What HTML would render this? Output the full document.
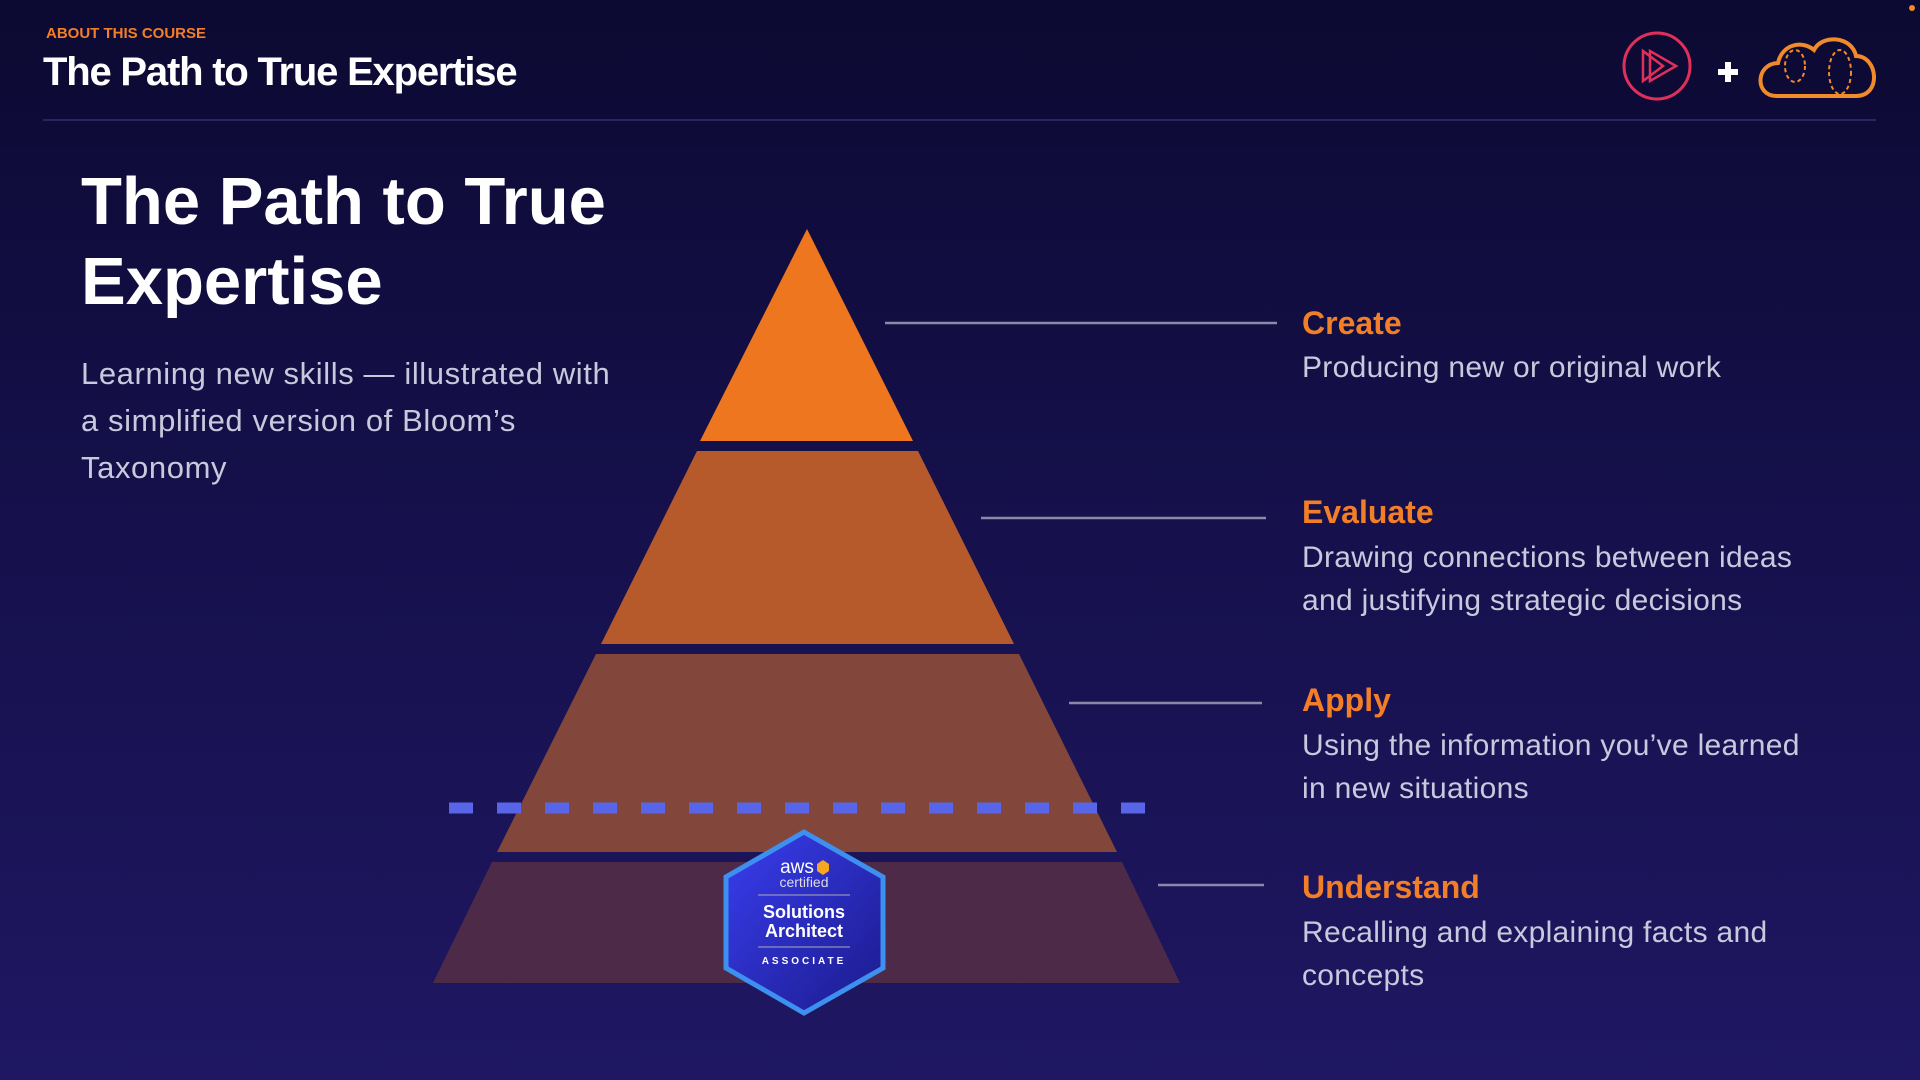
<!DOCTYPE html>
<html><head><meta charset="utf-8"><style>
html,body{margin:0;padding:0}
body{width:1920px;height:1080px;overflow:hidden;position:relative;font-family:"Liberation Sans",sans-serif;background:linear-gradient(180deg,#0c0932 0%,#15104a 45%,#1f1762 100%);}
.t{position:absolute;white-space:nowrap}
.h{color:#f27f28;font-weight:bold;font-size:32px}
.d{color:#c9c9dd;font-size:30px;line-height:43px;letter-spacing:0.3px}
</style></head><body>
<div class="t" style="left:46px;top:25px;font-size:15px;font-weight:bold;color:#f27f28">ABOUT THIS COURSE</div>
<div class="t" style="left:43px;top:50px;font-size:40px;font-weight:bold;color:#fff;letter-spacing:-1.2px">The Path to True Expertise</div>
<div style="position:absolute;left:43px;top:119px;width:1833px;height:2px;background:#2a2560"></div>
<div class="t" style="left:81px;top:162px;font-size:67px;font-weight:bold;color:#fff;line-height:80px">The Path to True<br>Expertise</div>
<div class="t" style="left:81px;top:350px;font-size:31px;color:#c9c9dd;line-height:47px;letter-spacing:0.6px">Learning new skills — illustrated with<br>a simplified version of Bloom’s<br>Taxonomy</div>
<svg style="position:absolute;left:0;top:0" width="1920" height="1080">
<polygon points="807,229 913,441 700,441" fill="#ee761e"/>
<polygon points="697,451 918,451 1014,644 601,644" fill="#b65a2b"/>
<polygon points="596,654 1019,654 1117,852 497,852" fill="#83463a"/>
<polygon points="492,862 1122,862 1180,983 433,983" fill="#4d2b48"/>
<line x1="449" y1="808" x2="1145" y2="808" stroke="#5865e8" stroke-width="11" stroke-dasharray="24 24"/>
<g stroke="#8a8aa8" stroke-width="2.5">
<line x1="885" y1="323" x2="1277" y2="323"/><line x1="981" y1="518" x2="1266" y2="518"/>
<line x1="1069" y1="703" x2="1262" y2="703"/><line x1="1158" y1="885" x2="1264" y2="885"/></g>
<defs><linearGradient id="hg" x1="0" y1="0" x2="1" y2="1"><stop offset="0" stop-color="#3a3ef0"/><stop offset="1" stop-color="#1a1a8a"/></linearGradient></defs>
<polygon points="804,832 883,877 883,968 804,1013 726,968 726,877" fill="url(#hg)" stroke="#3d8ff0" stroke-width="5"/>
<text x="797" y="873" font-size="19" fill="#fff" text-anchor="middle" font-family="Liberation Sans">aws</text>
<polygon points="823,860 829,864 829,871 823,875 817,871 817,864" fill="#f5a623"/>
<text x="804" y="887" font-size="14" fill="#ddd" text-anchor="middle" font-family="Liberation Sans">certified</text>
<line x1="758" y1="895" x2="850" y2="895" stroke="#aab" stroke-width="1"/>
<text x="804" y="918" font-size="18" font-weight="bold" fill="#fff" text-anchor="middle" font-family="Liberation Sans">Solutions</text>
<text x="804" y="937" font-size="18" font-weight="bold" fill="#fff" text-anchor="middle" font-family="Liberation Sans">Architect</text>
<line x1="758" y1="947" x2="850" y2="947" stroke="#aab" stroke-width="1"/>
<text x="804" y="964" font-size="10" font-weight="bold" fill="#fff" text-anchor="middle" letter-spacing="3" font-family="Liberation Sans">ASSOCIATE</text>
<circle cx="1657" cy="66" r="33" fill="none" stroke="#e0305a" stroke-width="3"/>
<polygon points="1643,51 1643,81 1663,66" fill="none" stroke="#e0305a" stroke-width="2.5"/>
<polygon points="1650,51 1650,81 1676,66" fill="none" stroke="#e0305a" stroke-width="2.5"/>
<path d="M1718,72h20M1728,62v20" stroke="#fff" stroke-width="6"/>
<path d="M1776,96 C1755,96 1755,64 1778,63 C1782,44 1802,40 1814,50 C1822,34 1852,36 1856,56 C1878,56 1882,96 1856,96 Z" fill="none" stroke="#f08a2a" stroke-width="4"/>
<ellipse cx="1840" cy="72" rx="11" ry="22" fill="none" stroke="#f08a2a" stroke-width="2" stroke-dasharray="4 3"/>
<ellipse cx="1795" cy="66" rx="10" ry="16" fill="none" stroke="#f08a2a" stroke-width="2" stroke-dasharray="4 3"/>
<circle cx="1912" cy="8" r="3" fill="#f08a2a"/>
</svg>
<div class="t h" style="left:1302px;top:305px">Create</div>
<div class="t d" style="left:1302px;top:346px">Producing new or original work</div>
<div class="t h" style="left:1302px;top:494px">Evaluate</div>
<div class="t d" style="left:1302px;top:536px">Drawing connections between ideas<br>and justifying strategic decisions</div>
<div class="t h" style="left:1302px;top:682px">Apply</div>
<div class="t d" style="left:1302px;top:724px">Using the information you’ve learned<br>in new situations</div>
<div class="t h" style="left:1302px;top:869px">Understand</div>
<div class="t d" style="left:1302px;top:911px">Recalling and explaining facts and<br>concepts</div>
</body></html>
